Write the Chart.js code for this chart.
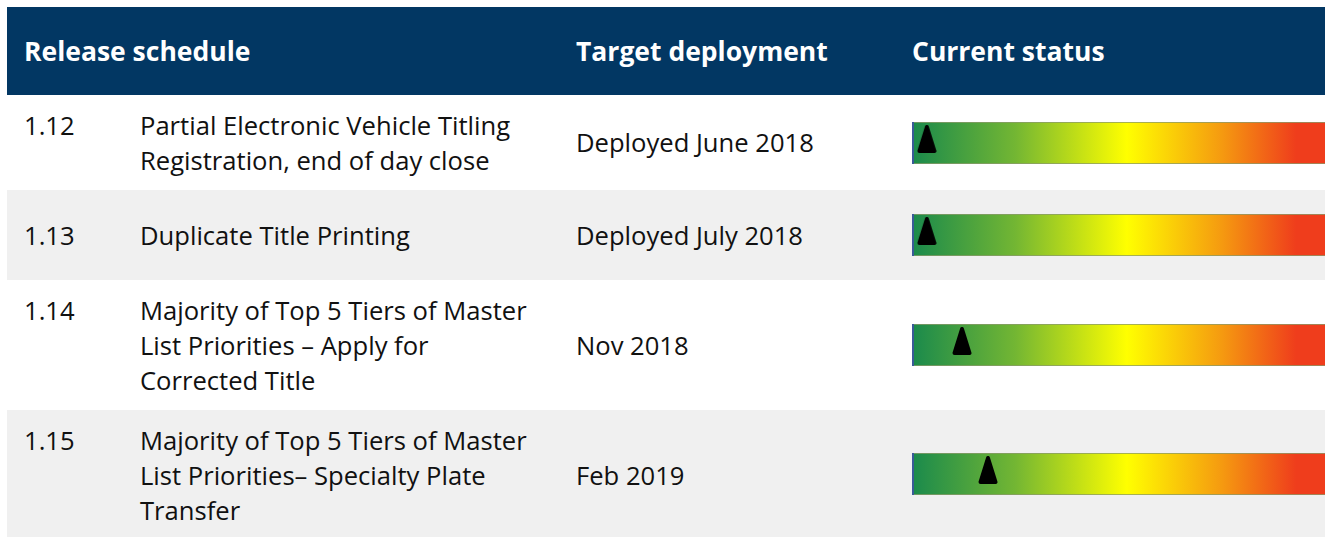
<!DOCTYPE html>
<html>
<head>
<meta charset="utf-8">
<script src="https://cdn.jsdelivr.net/npm/chart.js@4"></script>
<style>
  body { margin: 0; background: #fff; font-family: "Open Sans", sans-serif; color: #111; }
  .table { position: absolute; left: 7px; top: 7px; width: 1318px; }
  .head { height: 88px; background: #023763; color: #fff; font-weight: bold; font-size: 26.5px; position: relative; }
  .head span { position: absolute; top: 26px; line-height: 36px; }
  .row { position: relative; }
  .row.alt { background: #f0f0f0; }
  .num, .desc, .target { position: absolute; font-size: 25.6px; line-height: 35px; white-space: pre-line; }
  .target { left: 569px; }
  .status { position: absolute; left: 905px; width: 413px; height: 42px; }
</style>
</head>
<body>
<div class="table" id="tbl">
  <div class="head">
    <span style="left:17px">Release schedule</span>
    <span style="left:569px">Target deployment</span>
    <span style="left:905px">Current status</span>
  </div>
</div>
<script>
const releases = ["1.12", "1.13", "1.14", "1.15"];
const descriptions = [
  "Partial Electronic Vehicle Titling\nRegistration, end of day close",
  "Duplicate Title Printing",
  "Majority of Top 5 Tiers of Master\nList Priorities \u2013 Apply for\nCorrected Title",
  "Majority of Top 5 Tiers of Master\nList Priorities\u2013 Specialty Plate\nTransfer"
];
const targets = ["Deployed June 2018", "Deployed July 2018", "Nov 2018", "Feb 2019"];
const statusValues = [3.6, 3.6, 12.1, 18.4];   // position of the marker along the scale, 0-100

const rowHeights = [95, 90, 130, 127];

// rounded narrow triangle used as the marker
const marker = document.createElement("canvas");
marker.width = 20;
marker.height = 38;
(() => {
  const c = marker.getContext("2d");
  c.fillStyle = "#000";
  c.strokeStyle = "#000";
  c.lineJoin = "round";
  c.lineWidth = 4;
  c.beginPath();
  c.moveTo(10, 3);
  c.lineTo(17.5, 27);
  c.lineTo(2.5, 27);
  c.closePath();
  c.fill();
  c.stroke();
})();

const gradientFill = (ctx) => {
  const area = ctx.chart.chartArea;
  if (!area) return "#8fc43a";
  const g = ctx.chart.ctx.createLinearGradient(area.left, 0, area.right, 0);
  g.addColorStop(0, "#1a8a4c");
  g.addColorStop(0.25, "#73b633");
  g.addColorStop(0.52, "#ffff00");
  g.addColorStop(0.75, "#f59a10");
  g.addColorStop(0.93, "#ef3d1c");
  g.addColorStop(1, "#ef3d1c");
  return g;
};

// thin blue left edge and grey top/bottom rule of the bar
const edgePlugin = {
  id: "edge",
  beforeDatasetsDraw(chart) {
    const { ctx, chartArea: a } = chart;
    ctx.save();
    ctx.fillStyle = "#8a9a6a";
    ctx.fillRect(a.left, a.top, a.right - a.left, a.bottom - a.top);
    ctx.restore();
  },
  afterDatasetsDraw(chart) {
    const { ctx, chartArea: a } = chart;
    ctx.save();
    ctx.fillStyle = "#3a5a98";
    ctx.fillRect(a.left, a.top, 2, a.bottom - a.top);
    ctx.restore();
  }
};

const tbl = document.getElementById("tbl");
releases.forEach((rel, i) => {
  const row = document.createElement("div");
  row.className = "row" + (i % 2 ? " alt" : "");
  row.style.height = rowHeights[i] + "px";
  const lines = descriptions[i].split("\n").length;
  const shift = i === 3 ? 2 : 0;
  const textTop = (rowHeights[i] - lines * 35) / 2 + shift;
  row.innerHTML =
    `<div class="num" style="left:17px;top:${textTop}px">${rel}</div>` +
    `<div class="desc" style="left:133px;top:${textTop}px">${descriptions[i]}</div>` +
    `<div class="target" style="top:${(rowHeights[i] - 35) / 2 + shift}px">${targets[i]}</div>` +
    `<div class="status" style="top:${(rowHeights[i] - 42) / 2}px"><canvas></canvas></div>`;
  tbl.appendChild(row);

  new Chart(row.querySelector("canvas"), {
    type: "bar",
    data: {
      labels: [rel],
      datasets: [
        {
          type: "scatter",
          data: [{ x: statusValues[i], y: rel }],
          pointStyle: marker,
          pointRadius: 10,
          clip: false,
          order: 0,
        },
        {
          data: [100],
          backgroundColor: gradientFill,
          borderWidth: { top: 1, bottom: 1, left: 0, right: 0 },
          borderColor: "rgba(0,0,0,0)",
          borderSkipped: false,
          barPercentage: 1,
          categoryPercentage: 1,
          order: 1,
        },
      ],
    },
    options: {
      indexAxis: "y",
      responsive: true,
      maintainAspectRatio: false,
      animation: false,
      layout: { padding: 0, autoPadding: false },
      scales: {
        x: { type: "linear", min: 0, max: 100, display: false },
        y: { type: "category", display: false },
      },
      plugins: { legend: { display: false }, tooltip: { enabled: false } },
    },
    plugins: [edgePlugin],
  });
});
</script>
</body>
</html>
